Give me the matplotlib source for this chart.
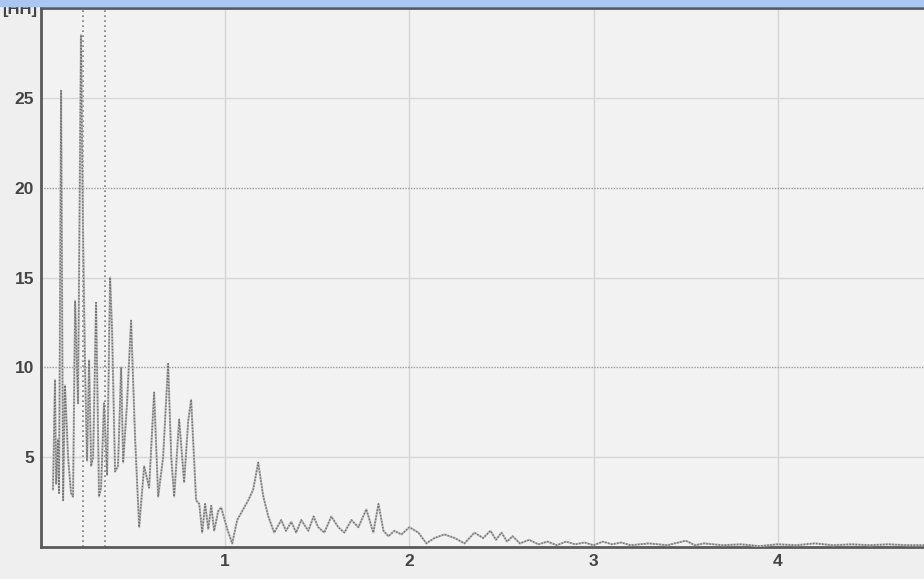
import matplotlib
matplotlib.use("Agg")
import matplotlib.pyplot as plt
from matplotlib.patches import Rectangle

# spectrum (frequency, amplitude)
freq = [0.065, 0.076, 0.082, 0.092, 0.098, 0.109, 0.120, 0.130, 0.147, 0.163,
        0.174, 0.185, 0.201, 0.217, 0.228, 0.239, 0.250, 0.261, 0.272, 0.283,
        0.299, 0.315, 0.326, 0.342, 0.359, 0.375, 0.386, 0.402, 0.418, 0.435,
        0.446, 0.467, 0.489, 0.511, 0.533, 0.560, 0.587, 0.614, 0.636, 0.663,
        0.690, 0.707, 0.723, 0.750, 0.777, 0.799, 0.815, 0.842, 0.859, 0.875,
        0.891, 0.908, 0.924, 0.940, 0.962, 0.978, 1.011, 1.038, 1.065, 1.087,
        1.125, 1.152, 1.179, 1.207, 1.234, 1.266, 1.304, 1.330, 1.359, 1.385,
        1.413, 1.451, 1.480, 1.505, 1.538, 1.576, 1.614, 1.647, 1.685, 1.723,
        1.766, 1.804, 1.832, 1.859, 1.886, 1.918, 1.957, 2.000, 2.049, 2.092,
        2.136, 2.190, 2.245, 2.299, 2.353, 2.40, 2.44, 2.47, 2.50, 2.53,
        2.56, 2.60, 2.65, 2.70, 2.75, 2.80, 2.85, 2.90, 2.95, 3.00,
        3.05, 3.10, 3.15, 3.20, 3.30, 3.40, 3.50, 3.55, 3.60, 3.70,
        3.80, 3.90, 4.00, 4.10, 4.20, 4.30, 4.40, 4.50, 4.60, 4.70, 4.80]
amp = [3.2, 9.3, 3.5, 6.0, 3.0, 25.4, 2.6, 9.0, 5.0, 3.0,
       2.8, 13.7, 8.0, 28.5, 17.6, 10.0, 4.8, 10.4, 4.5, 5.0,
       13.6, 2.8, 3.3, 8.0, 4.0, 15.0, 12.0, 4.2, 4.5, 10.0,
       4.7, 8.0, 12.6, 6.0, 1.1, 4.5, 3.3, 8.6, 2.8, 5.0,
       10.2, 5.0, 2.8, 7.1, 3.6, 7.0, 8.2, 2.6, 2.4, 0.8,
       2.4, 1.0, 2.3, 0.9, 2.0, 2.2, 1.0, 0.2, 1.5, 1.9,
       2.6, 3.2, 4.7, 2.8, 1.7, 0.8, 1.5, 0.9, 1.4, 0.8,
       1.5, 0.9, 1.7, 1.1, 0.8, 1.7, 1.1, 0.8, 1.5, 1.1,
       2.1, 0.8, 2.4, 0.9, 0.6, 0.9, 0.7, 1.1, 0.8, 0.2,
       0.5, 0.7, 0.5, 0.2, 0.8, 0.5, 0.9, 0.4, 0.8, 0.3,
       0.6, 0.2, 0.4, 0.15, 0.3, 0.1, 0.3, 0.15, 0.25, 0.1,
       0.3, 0.15, 0.25, 0.1, 0.2, 0.1, 0.35, 0.1, 0.2, 0.1,
       0.15, 0.05, 0.15, 0.1, 0.2, 0.1, 0.15, 0.1, 0.15, 0.1, 0.1]

markers = [0.228, 0.348]
xticks = [1, 2, 3, 4]
yticks = [5, 10, 15, 20, 25]
unit = "[HH]"

fig = plt.figure(figsize=(9.24, 5.79), dpi=100)
fig.patch.set_facecolor("#efefef")
ax = fig.add_axes([41 / 924, 32 / 579, 1.0, 539 / 579])
ax.set_facecolor("#f2f2f2")
ax.set_xlim(0, 4.8 * 1.045)
ax.set_ylim(0, 30)

for v in xticks:
    ax.axvline(v, color="#d4d4d4", lw=1, zorder=1)
for v in yticks:
    if v % 10 == 0:
        ax.axhline(v, color="#9a9a9a", lw=1, ls=(0, (1, 1)), zorder=1)
    else:
        ax.axhline(v, color="#d8d8d8", lw=1, zorder=1)
for m in markers:
    ax.axvline(m, color="#7a7a7a", lw=1.2, ls=(0, (1, 2)), zorder=2)

ax.plot(freq, amp, color="#c0c0c0", lw=1.5, zorder=3)
ax.plot(freq, amp, color="#767676", lw=1.1, ls=(0, (1, 1)), zorder=4)

ax.set_xticks(xticks)
ax.set_yticks(yticks)
ax.tick_params(length=0, labelsize=12.5, colors="#444444", pad=5)
for lab in ax.get_xticklabels() + ax.get_yticklabels():
    lab.set_fontweight("bold")
    lab.set_family("Liberation Sans")
for s in ["left", "bottom", "top"]:
    ax.spines[s].set_color("#5a5a5a")
    ax.spines[s].set_linewidth(2)
ax.spines["right"].set_visible(False)

fig.text(2 / 924, 1 - 14 / 579, unit, fontsize=12, fontweight="bold",
         color="#444444", family="Liberation Sans")
fig.patches.append(Rectangle((0, 1 - 6 / 579), 1, 6 / 579, transform=fig.transFigure,
                             color="#a8c8f2", zorder=10))

fig.savefig("out.png", dpi=100, facecolor=fig.get_facecolor())
